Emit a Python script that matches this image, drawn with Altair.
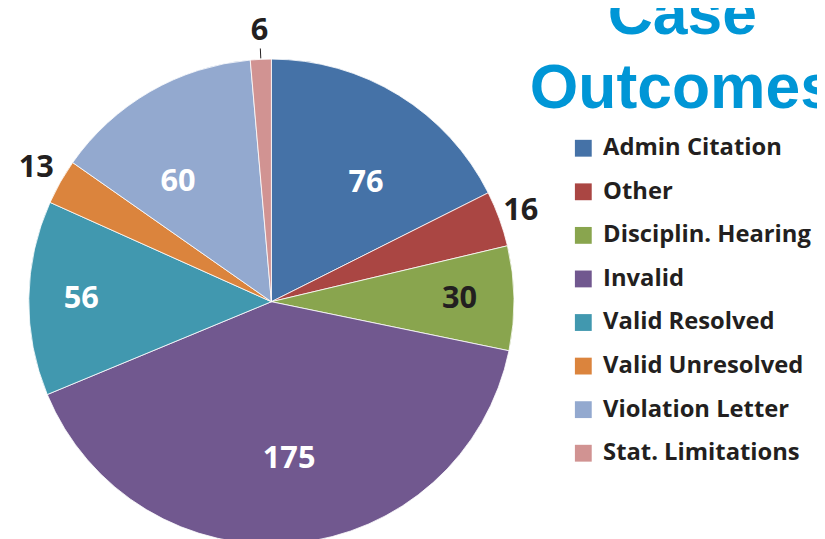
import altair as alt
import pandas as pd

categories = ["Admin Citation", "Other", "Disciplin. Hearing", "Invalid",
              "Valid Resolved", "Valid Unresolved", "Violation Letter", "Stat. Limitations"]
counts = [76, 16, 30, 175, 56, 13, 60, 6]
colors = ["#4572A7", "#AA4643", "#89A54E", "#71588F",
          "#4198AF", "#DB843D", "#93A9CF", "#D19392"]
title_lines = ["Case", "Outcomes"]

df = pd.DataFrame({"category": categories, "count": counts,
                   "idx": list(range(len(categories)))})

CX, CY, R = 266, 294, 245

# label placement (style): radius in px and angular nudge in degrees per slice
label_r = {"Admin Citation": 153, "Other": 268, "Disciplin. Hearing": 190, "Invalid": 160,
           "Valid Resolved": 192, "Valid Unresolved": 273, "Violation Letter": 153,
           "Stat. Limitations": 274}
label_da = {"Admin Citation": 7, "Invalid": -1, "Violation Letter": -8}
dark_labels = ["Other", "Disciplin. Hearing", "Valid Unresolved", "Stat. Limitations"]

r_expr = " : ".join(f"datum.category == '{k}' ? {v}" for k, v in label_r.items()) + " : 150"
da_expr = " : ".join(f"datum.category == '{k}' ? {v}" for k, v in label_da.items()) + " : 0"
dark_test = "indexof(" + str(dark_labels) + ", datum.category) >= 0"

polar = alt.Chart(df).transform_window(
    cum="sum(count)", sort=[alt.SortField("idx")]
).transform_joinaggregate(
    total="sum(count)"
).transform_calculate(
    a="(datum.cum - datum.count/2) / datum.total * 2 * PI",
)

pie = alt.Chart(df).mark_arc(outerRadius=R, stroke="white", strokeWidth=0.8).encode(
    theta=alt.Theta("count:Q", stack=True),
    order=alt.Order("idx:Q"),
    x=alt.value(CX), y=alt.value(CY),
    color=alt.Color("category:N",
                    scale=alt.Scale(domain=categories, range=colors),
                    legend=alt.Legend(title=None, orient="none", legendX=569, legendY=127,
                                      symbolType="square", symbolSize=289, symbolStrokeWidth=0,
                                      symbolOpacity=1,
                                      labelFont="Open Sans", labelFontWeight="bold", labelFontSize=24,
                                      labelColor="#231F20", labelOffset=8, rowPadding=20,
                                      labelLimit=400)),
)

labels = polar.transform_calculate(
    lr=r_expr, la=f"datum.a + ({da_expr}) * PI / 180"
).transform_calculate(
    lx=f"{CX} + datum.lr * sin(datum.la)", ly=f"{CY} - datum.lr * cos(datum.la)"
).mark_text(font="Open Sans", fontWeight="bold", fontSize=31, baseline="middle", align="center").encode(
    x=alt.X("lx:Q", scale=None), y=alt.Y("ly:Q", scale=None),
    color=alt.condition(dark_test, alt.value("#231F20"), alt.value("#FFFFFF")),
    text=alt.Text("count:Q"),
)

leader = polar.transform_calculate(
    x1=f"{CX} + {R + 1} * sin(datum.a)", y1=f"{CY} - {R + 1} * cos(datum.a)",
    x2=f"{CX} + {R + 11} * sin(datum.a)", y2=f"{CY} - {R + 11} * cos(datum.a)",
).transform_filter(
    "datum.category == 'Stat. Limitations'"
).mark_rule(color="#231F20", strokeWidth=1).encode(
    x=alt.X("x1:Q", scale=None), y=alt.Y("y1:Q", scale=None),
    x2="x2:Q", y2="y2:Q",
)

title = alt.Chart(pd.DataFrame({"a": [0]})).mark_text(
    font="Liberation Sans", fontWeight="bold", fontSize=63, color="#0096D6",
    align="center", baseline="alphabetic", lineHeight=74,
).encode(x=alt.value(681), y=alt.value(24), text=alt.value(title_lines))

chart = alt.layer(pie, labels, leader, title).properties(
    width=817, height=531, padding=0,
    autosize=alt.AutoSizeParams(type="none"),
).configure_view(stroke=None)

chart.save("out.html", embed_options={"renderer": "svg", "actions": False})
